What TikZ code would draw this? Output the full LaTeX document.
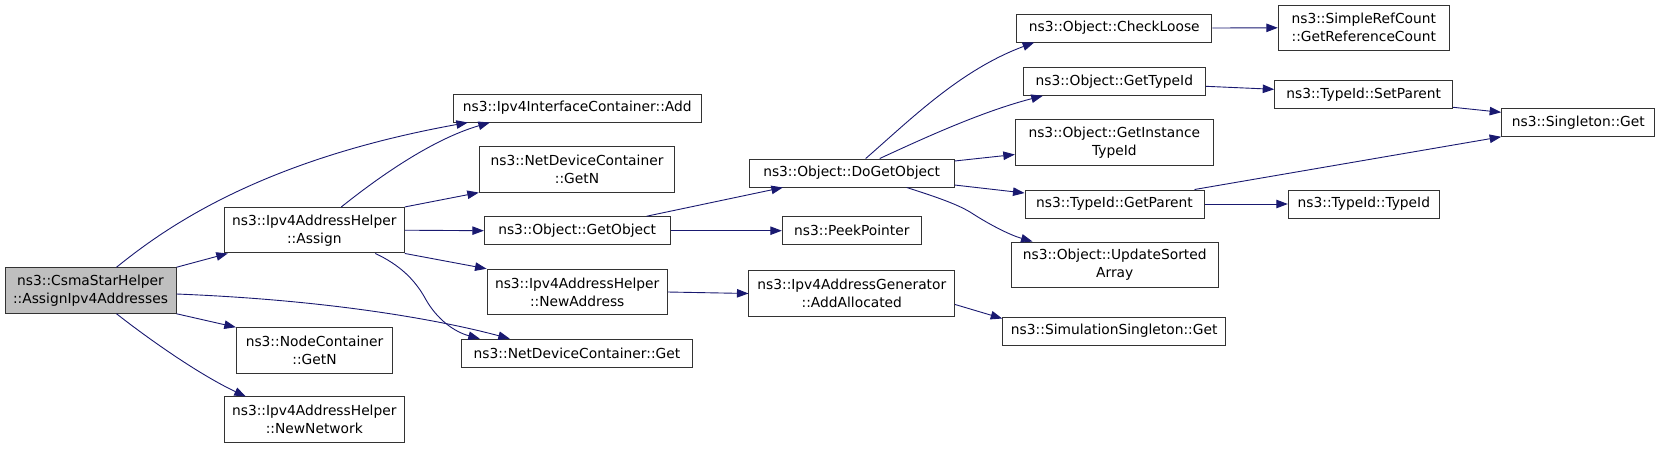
\documentclass[tikz,border=0pt]{standalone}
\usepackage{fontspec}
\setmainfont{DejaVu Sans}
\usetikzlibrary{arrows.meta}
\definecolor{edgeblue}{HTML}{191970}
\definecolor{nodegray}{HTML}{BFBFBF}
\newcommand*{\oneh}{28pt}
\newcommand*{\twoh}{45.5pt}

\begin{document}
\begin{tikzpicture}[x=1pt, y=-1pt, font=\fontsize{13.8}{18}\selectfont,
    fn/.style={draw=black!80, line width=1pt, fill=white, inner sep=0pt, align=center, minimum height=\oneh},
    fntwo/.style={fn, minimum height=\twoh},
    call/.style={draw=edgeblue, line width=0.9pt, -{Triangle[length=11.5pt,width=8.5pt]}}]
    \useasboundingbox (0,0) rectangle (1661,448);
    % first column
    \node [fntwo, fill=nodegray, minimum width=171pt] (csma) at (90.5,290.5) {ns3::CsmaStarHelper\\::AssignIpv4Addresses};
    % second column
    \node [fntwo, minimum width=180pt]   (assign)   at (314.3,230.2) {ns3::Ipv4AddressHelper\\::Assign};
    \node [fntwo, minimum width=156.4pt] (nodegetn) at (314.5,350.5) {ns3::NodeContainer\\::GetN};
    \node [fntwo, minimum width=180pt]   (newnet)   at (314.3,419.7) {ns3::Ipv4AddressHelper\\::NewNetwork};
    % third column
    \node [fn,    minimum width=247.7pt] (add)     at (577.2,108)   {ns3::Ipv4InterfaceContainer::Add};
    \node [fntwo, minimum width=195.4pt] (ndcgetn) at (577,169.3)   {ns3::NetDeviceContainer\\::GetN};
    \node [fn,    minimum width=185.7pt] (getobj)  at (577.2,230.7) {ns3::Object::GetObject};
    \node [fntwo, minimum width=180.3pt] (newaddr) at (577.2,292)   {ns3::Ipv4AddressHelper\\::NewAddress};
    \node [fn,    minimum width=231.4pt] (ndcget)  at (577,353.2)   {ns3::NetDeviceContainer::Get};
    % fourth column
    \node [fn,    minimum width=204.7pt] (dogetobj) at (851.7,173)   {ns3::Object::DoGetObject};
    \node [fn,    minimum width=139pt]   (peek)     at (851.8,230.7) {ns3::PeekPointer};
    \node [fntwo, minimum width=205.7pt] (addalloc) at (851.8,293.5) {ns3::Ipv4AddressGenerator\\::AddAllocated};
    % fifth column
    \node [fn,    minimum width=195.3pt] (checkloose) at (1114.3,28)    {ns3::Object::CheckLoose};
    \node [fn,    minimum width=182pt]   (gettypeid)  at (1114.3,81.3)  {ns3::Object::GetTypeId};
    \node [fntwo, minimum width=198pt]   (getinst)    at (1114.3,142.5) {ns3::Object::GetInstance\\TypeId};
    \node [fn,    minimum width=179pt]   (getparent)  at (1114.5,204)   {ns3::TypeId::GetParent};
    \node [fntwo, minimum width=207.4pt] (updsorted)  at (1114.7,264.8) {ns3::Object::UpdateSorted\\Array};
    \node [fn,    minimum width=223pt]   (simsingle)  at (1114.2,331)   {ns3::SimulationSingleton::Get};
    % sixth column
    \node [fntwo, minimum width=171pt, align=left] (simpleref) at (1363.8,27.8) {ns3::SimpleRefCount\\::GetReferenceCount};
    \node [fn,    minimum width=178pt]   (setparent) at (1363.7,94.3) {ns3::TypeId::SetParent};
    \node [fn,    minimum width=151pt]   (typeid)    at (1363.8,204)  {ns3::TypeId::TypeId};
    % last column
    \node [fn,    minimum width=153.3pt] (singleton) at (1578.3,122.3) {ns3::Singleton::Get};

    % calls from the first column
    \draw [call] ([xshift=26]csma.north) .. controls (165,228) and (260,160) .. ([xshift=15]add.south west);
    \draw [call] (csma.north east) -- ([xshift=4]assign.south west);
    \draw [call] ([yshift=-3.5]csma.east) .. controls (330,300) and (440,320) .. ([xshift=49]ndcget.north west);
    \draw [call] (csma.south east) -- (nodegetn.north west);
    \draw [call] ([xshift=26]csma.south) .. controls (150,340) and (200,375) .. ([xshift=22]newnet.north west);
    % calls from Assign
    \draw [call] ([xshift=27]assign.north) .. controls (375,180) and (430,140) .. ([xshift=37]add.south west);
    \draw [call] (assign.north east) -- (ndcgetn.south west);
    \draw [call] (assign.east) -- (getobj.west);
    \draw [call] (assign.south east) -- (newaddr.north west);
    \draw [call] ([xshift=61]assign.south) .. controls (400,265) and (415,280) .. (425,298)
                 .. controls (437,320) and (455,332) .. ([xshift=19]ndcget.north west);
    % third column onwards
    \draw [call] ([xshift=69.5]getobj.north) -- ([xshift=34]dogetobj.south west);
    \draw [call] (getobj.east) -- (peek.west);
    \draw [call] (newaddr.east) -- (addalloc.west);
    \draw [call] ([xshift=14]dogetobj.north) .. controls (910,120) and (960,70) .. ([xshift=18]checkloose.south west);
    \draw [call] ([xshift=28]dogetobj.north) .. controls (920,140) and (980,112) .. ([xshift=20]gettypeid.south west);
    \draw [call] ([yshift=12]dogetobj.east) -- ([yshift=-12]getinst.west);
    \draw [call] ([yshift=-12]dogetobj.east) -- ([yshift=11]getparent.west);
    \draw [call] ([xshift=55]dogetobj.south) .. controls (930,195) and (955,203) .. (970,212)
                 .. controls (990,225) and (1010,235) .. ([xshift=22]updsorted.north west);
    \draw [call] ([yshift=-11]addalloc.east) -- ([yshift=-2]simsingle.north west);
    \draw [call] (checkloose.east) -- (simpleref.west);
    \draw [call] ([yshift=-5]gettypeid.east) -- ([yshift=5]setparent.west);
    \draw [call] ([yshift=1.5]setparent.south east) -- ([yshift=10]singleton.west);
    \draw [call] ([xshift=80]getparent.north) -- (singleton.south west);
    \draw [call] (getparent.east) -- (typeid.west);
\end{tikzpicture}
\end{document}
